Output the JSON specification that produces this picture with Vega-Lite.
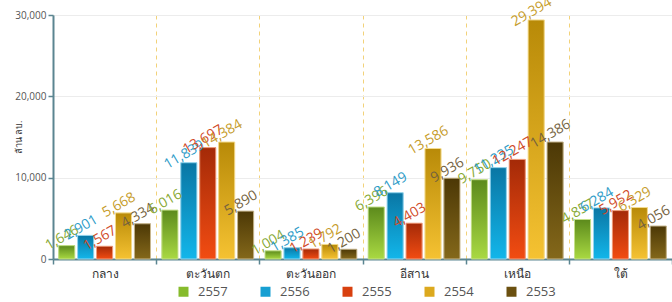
{
  "$schema": "https://vega.github.io/schema/vega-lite/v6.json",
  "width": 619,
  "height": 244,
  "autosize": {"type": "none"},
  "padding": {"left": 53, "top": 15, "right": 0, "bottom": 43},
  "background": "white",
  "config": {
    "view": {"stroke": null},
    "font": "Open Sans",
    "axis": {"domainColor": "#5b8591", "domainWidth": 2, "tickColor": "#5b8591", "tickWidth": 1.5, "tickSize": 5}
  },
  "data": {
    "values": [
      {"region": "กลาง", "year": "2557", "value": 1646},
      {"region": "กลาง", "year": "2556", "value": 2901},
      {"region": "กลาง", "year": "2555", "value": 1567},
      {"region": "กลาง", "year": "2554", "value": 5668},
      {"region": "กลาง", "year": "2553", "value": 4334},
      {"region": "ตะวันตก", "year": "2557", "value": 6016},
      {"region": "ตะวันตก", "year": "2556", "value": 11839},
      {"region": "ตะวันตก", "year": "2555", "value": 13697},
      {"region": "ตะวันตก", "year": "2554", "value": 14384},
      {"region": "ตะวันตก", "year": "2553", "value": 5890},
      {"region": "ตะวันออก", "year": "2557", "value": 1004},
      {"region": "ตะวันออก", "year": "2556", "value": 1385},
      {"region": "ตะวันออก", "year": "2555", "value": 1239},
      {"region": "ตะวันออก", "year": "2554", "value": 1792},
      {"region": "ตะวันออก", "year": "2553", "value": 1200},
      {"region": "อีสาน", "year": "2557", "value": 6396},
      {"region": "อีสาน", "year": "2556", "value": 8149},
      {"region": "อีสาน", "year": "2555", "value": 4403},
      {"region": "อีสาน", "year": "2554", "value": 13586},
      {"region": "อีสาน", "year": "2553", "value": 9936},
      {"region": "เหนือ", "year": "2557", "value": 9750},
      {"region": "เหนือ", "year": "2556", "value": 11235},
      {"region": "เหนือ", "year": "2555", "value": 12247},
      {"region": "เหนือ", "year": "2554", "value": 29394},
      {"region": "เหนือ", "year": "2553", "value": 14386},
      {"region": "ใต้", "year": "2557", "value": 4857},
      {"region": "ใต้", "year": "2556", "value": 6284},
      {"region": "ใต้", "year": "2555", "value": 5952},
      {"region": "ใต้", "year": "2554", "value": 6329},
      {"region": "ใต้", "year": "2553", "value": 4056}
    ]
  },
  "encoding": {
    "x": {
      "field": "region", "type": "nominal",
      "sort": ["กลาง", "ตะวันตก", "ตะวันออก", "อีสาน", "เหนือ", "ใต้"],
      "scale": {"paddingInner": 0, "paddingOuter": 0},
      "axis": {"title": null, "labelAngle": 0, "labelFontSize": 12, "labelColor": "#333", "labelPadding": 4, "tickBand": "extent", "grid": true, "gridColor": "#f2d27a", "gridDash": [4, 4], "gridWidth": 1}
    },
    "xOffset": {
      "field": "year", "type": "nominal",
      "sort": ["2557", "2556", "2555", "2554", "2553"],
      "scale": {"paddingInner": 0.15, "paddingOuter": 0.3}
    },
    "y": {
      "field": "value", "type": "quantitative",
      "scale": {"domain": [0, 30000], "nice": false},
      "axis": {"title": "ล้าน ลบ.", "titleFontSize": 9, "titleFontWeight": "normal", "titleColor": "#333", "titleX": -30, "titleY": 122, "titleAlign": "center", "values": [0, 10000, 20000, 30000], "labelExpr": "format(datum.value, ',')", "labelFontSize": 10, "labelColor": "#555", "gridColor": "#ececec", "gridWidth": 1}
    }
  },
  "layer": [
    {
      "mark": {"type": "bar"},
      "encoding": {
        "color": {
          "field": "year", "type": "nominal",
          "sort": ["2557", "2556", "2555", "2554", "2553"],
          "scale": {"domain": ["2557", "2556", "2555", "2554", "2553"], "range": ["#86bb2c", "#179fd2", "#d8400f", "#dca91e", "#6b5010"]},
          "legend": {"title": null, "orient": "none", "legendX": 124, "legendY": 270, "direction": "horizontal", "columns": 5, "columnPadding": 31, "symbolType": "square", "symbolSize": 100, "symbolStrokeWidth": 1, "labelFontSize": 13, "labelColor": "#555", "labelOffset": 8}
        }
      }
    },
    {
      "transform": [{"filter": "datum.year == '2557'"}],
      "mark": {"type": "bar", "stroke": "#c4e08a", "strokeWidth": 1, "color": {"gradient": "linear", "x1": 0, "y1": 0, "x2": 0, "y2": 1, "stops": [{"offset": 0, "color": "#5c8a1c"}, {"offset": 1, "color": "#a9d942"}]}}
    },
    {
      "transform": [{"filter": "datum.year == '2556'"}],
      "mark": {"type": "bar", "stroke": "#9ad6ee", "strokeWidth": 1, "color": {"gradient": "linear", "x1": 0, "y1": 0, "x2": 0, "y2": 1, "stops": [{"offset": 0, "color": "#0a76a4"}, {"offset": 1, "color": "#12b6ea"}]}}
    },
    {
      "transform": [{"filter": "datum.year == '2555'"}],
      "mark": {"type": "bar", "stroke": "#f0a080", "strokeWidth": 1, "color": {"gradient": "linear", "x1": 0, "y1": 0, "x2": 0, "y2": 1, "stops": [{"offset": 0, "color": "#a42a08"}, {"offset": 1, "color": "#f24c12"}]}}
    },
    {
      "transform": [{"filter": "datum.year == '2554'"}],
      "mark": {"type": "bar", "stroke": "#f4dc90", "strokeWidth": 1, "color": {"gradient": "linear", "x1": 0, "y1": 0, "x2": 0, "y2": 1, "stops": [{"offset": 0, "color": "#b88a08"}, {"offset": 1, "color": "#f5c232"}]}}
    },
    {
      "transform": [{"filter": "datum.year == '2553'"}],
      "mark": {"type": "bar", "stroke": "#c8b890", "strokeWidth": 1, "color": {"gradient": "linear", "x1": 0, "y1": 0, "x2": 0, "y2": 1, "stops": [{"offset": 0, "color": "#4c3806"}, {"offset": 1, "color": "#84681a"}]}}
    },
    {
      "mark": {"type": "text", "angle": -30, "align": "center", "baseline": "bottom", "dy": -2, "fontSize": 14},
      "encoding": {
        "text": {"field": "value", "type": "quantitative", "format": ","},
        "color": {
          "field": "year", "type": "nominal",
          "scale": {"domain": ["2557", "2556", "2555", "2554", "2553"], "range": ["#86a832", "#2e9cc8", "#d04a28", "#c69c2a", "#74623e"]},
          "legend": null
        }
      }
    }
  ],
  "resolve": {"scale": {"color": "independent"}}
}
